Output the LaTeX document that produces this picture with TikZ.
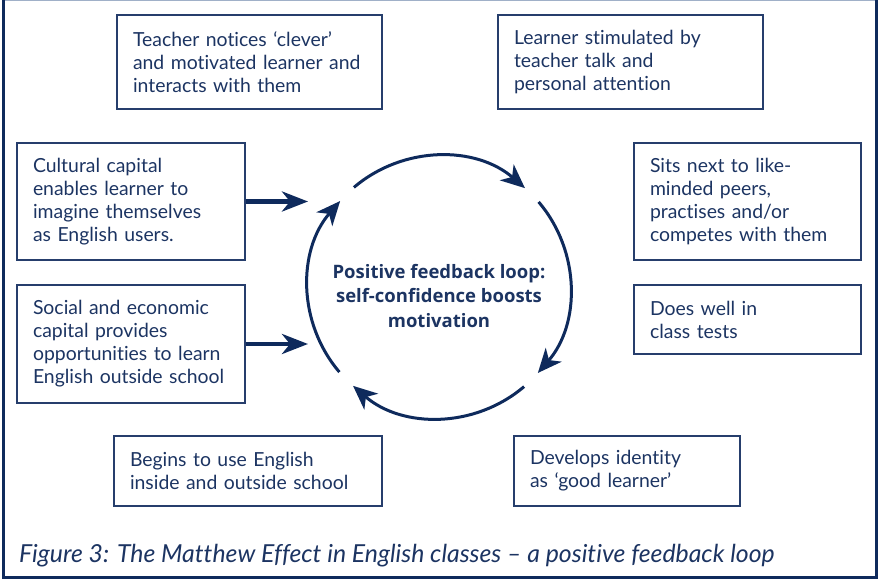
\documentclass[tikz,border=0pt]{standalone}
\usepackage{fontspec}
\setmainfont{Lato}[Ligatures=NoCommon]
\newfontfamily\centrefont{Open Sans}
\usetikzlibrary{arrows.meta,calc}
\definecolor{navy}{RGB}{14,42,92}
\definecolor{txt}{RGB}{28,52,98}
\definecolor{boxc}{RGB}{38,62,108}
\definecolor{lightb}{RGB}{160,176,200}
\newcommand{\bxl}[1]{\mbox{#1}}
\tikzset{
  box/.style={draw=boxc, line width=1.3pt, font=\fontsize{19.4}{23}\selectfont, text=txt, align=left, inner xsep=16pt, inner ysep=0pt},
  arcline/.style={draw=navy, line width=3pt, -{Stealth[length=24pt,width=21pt,inset=7pt]}},
  fatarrow/.style={draw=navy, line width=4.5pt, -{Stealth[length=26pt,width=20pt,inset=8pt]}},
  darkframe/.style={draw=navy, line width=3pt},
  lightframe/.style={draw=lightb, line width=1.5pt}
}
\begin{document}
\begin{tikzpicture}[x=1pt,y=1pt]
\useasboundingbox (0,0) rectangle (878,579);
% frame
\draw[lightframe] (2,578.25) -- (876,578.25);
\draw[darkframe] (3.5,579) -- (3.5,1.5) -- (876.5,1.5) -- (876.5,579);
% boxes
\node[box, text width=233pt, minimum width=265pt, minimum height=94pt] (b1) at (249.5,517) {\bxl{Teacher notices ‘clever’}\\\bxl{and motivated learner and}\\\bxl{interacts with them}};
\node[box, text width=233pt, minimum width=265pt, minimum height=94pt] (b2) at (630.5,517) {\bxl{Learner stimulated by}\\\bxl{teacher talk and}\\\bxl{personal attention}};
\node[box, text width=196pt, minimum width=228pt, minimum height=117pt] (b3) at (131,377.5) {\bxl{Cultural capital}\\\bxl{enables learner to}\\\bxl{imagine themselves}\\\bxl{as English users.}};
\node[box, text width=196pt, minimum width=228pt, minimum height=118pt] (b4) at (131,235) {\bxl{Social and economic}\\\bxl{capital provides}\\\bxl{opportunities to learn}\\\bxl{English outside school}};
\node[box, text width=195pt, minimum width=227pt, minimum height=117pt] (b5) at (747.5,377.5) {\bxl{Sits next to like-}\\\bxl{minded peers,}\\\bxl{practises and/or}\\\bxl{competes with them}};
\node[box, text width=195pt, minimum width=227pt, minimum height=69pt] (b6) at (747.5,259.5) {\bxl{Does well in}\\\bxl{class tests}};
\node[box, text width=236pt, minimum width=268pt, minimum height=70pt] (b7) at (248,108) {\bxl{Begins to use English}\\\bxl{inside and outside school}};
\node[box, text width=194pt, minimum width=226pt, minimum height=70pt] (b8) at (627,108) {\bxl{Develops identity}\\\bxl{as ‘good learner’}};
% centre
\coordinate (c) at (439,292);
\node[font=\centrefont\bfseries\fontsize{18.5}{24.5}\selectfont, text=txt, align=center] (ct) at (439,283) {Positive feedback loop:\\self-confidence boosts\\motivation};
% loop arcs
\draw[arcline] ($(c)+(130.5:131)$) arc[start angle=130.5, end angle=49, radius=131];
\draw[arcline] ($(c)+(40.5:131)$) arc[start angle=40.5, end angle=-41, radius=131];
\draw[arcline] ($(c)+(-49.5:131)$) arc[start angle=-49.5, end angle=-131, radius=131];
\draw[arcline] ($(c)+(220.5:131)$) arc[start angle=220.5, end angle=139, radius=131];
% input arrows
\coordinate (t3) at (308,377.5);
\coordinate (t4) at (308,235);
\draw[fatarrow] (b3) -- (t3);
\draw[fatarrow] (b4) -- (t4);
% caption
\node[anchor=base west, font=\itshape\fontsize{24.8}{28}\selectfont, text=txt, inner sep=0pt] (cap) at (19,17) {Figure 3: The Matthew Effect in English classes – a positive feedback loop};
\end{tikzpicture}
\end{document}
